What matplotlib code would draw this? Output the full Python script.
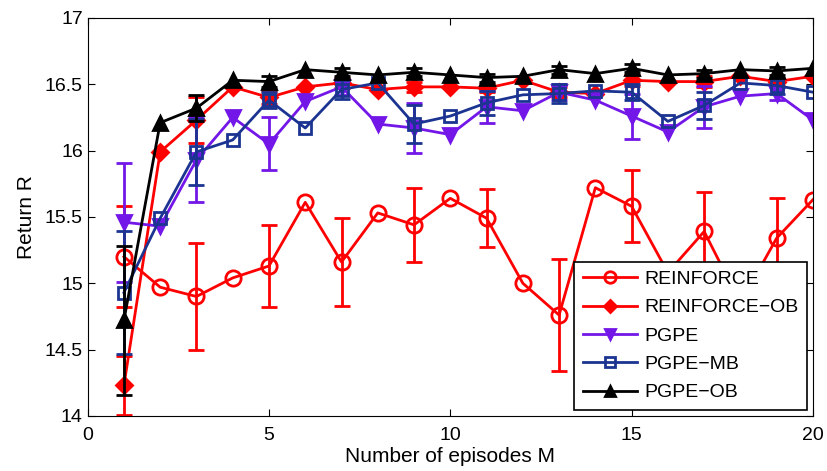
import matplotlib
matplotlib.use("Agg")
import matplotlib.pyplot as plt
from matplotlib.ticker import FuncFormatter

plt.rcParams["font.family"] = ["Liberation Sans", "DejaVu Sans"]

episodes = list(range(1, 21))
err_x = episodes[::2]  # error bars only at odd episode counts

reinforce = [15.20, 14.97, 14.90, 15.04, 15.13, 15.61, 15.16, 15.53, 15.44, 15.64,
             15.49, 15.00, 14.76, 15.72, 15.58, 15.08, 15.39, 14.85, 15.34, 15.63]
reinforce_err = [0.38, 0.40, 0.31, 0.33, 0.28, 0.22, 0.42, 0.27, 0.30, 0.30]

reinforce_ob = [14.23, 15.99, 16.23, 16.48, 16.40, 16.48, 16.51, 16.46, 16.48, 16.48,
                16.47, 16.53, 16.44, 16.43, 16.53, 16.52, 16.52, 16.56, 16.52, 16.56]
reinforce_ob_err = [0.22, 0.17, 0.05, 0.04, 0.04, 0.03, 0.04, 0.04, 0.04, 0.03]

pgpe = [15.46, 15.43, 15.93, 16.25, 16.05, 16.37, 16.48, 16.20, 16.17, 16.12,
        16.33, 16.30, 16.44, 16.38, 16.26, 16.14, 16.33, 16.41, 16.43, 16.23]
pgpe_err = [0.45, 0.32, 0.20, 0.06, 0.19, 0.12, 0.06, 0.17, 0.16, 0.05]

pgpe_mb = [14.93, 15.49, 15.99, 16.08, 16.38, 16.17, 16.46, 16.51, 16.20, 16.26,
           16.36, 16.42, 16.43, 16.45, 16.44, 16.22, 16.34, 16.51, 16.49, 16.44]
pgpe_mb_err = [0.46, 0.25, 0.06, 0.07, 0.14, 0.09, 0.07, 0.06, 0.10, 0.06]

pgpe_ob = [14.72, 16.21, 16.32, 16.53, 16.52, 16.61, 16.59, 16.57, 16.59, 16.57,
           16.55, 16.56, 16.61, 16.58, 16.62, 16.57, 16.58, 16.61, 16.60, 16.62]
pgpe_ob_err = [0.56, 0.10, 0.04, 0.03, 0.03, 0.03, 0.03, 0.03, 0.03, 0.03]

series = [
    ("REINFORCE", reinforce, reinforce_err, "#ff0000", "o", "none", 11),
    ("REINFORCE\u2212OB", reinforce_ob, reinforce_ob_err, "#ff0000", "D", "#ff0000", 8),
    ("PGPE", pgpe, pgpe_err, "#7316e8", "v", "#7316e8", 10),
    ("PGPE\u2212MB", pgpe_mb, pgpe_mb_err, "#1c3491", "s", "none", 9),
    ("PGPE\u2212OB", pgpe_ob, pgpe_ob_err, "#000000", "^", "#000000", 10),
]

fig = plt.figure(figsize=(8.27, 4.71), dpi=100)
ax = fig.add_axes([0.106, 0.117, 0.877, 0.845])

for name, vals, errs, col, mk, fc, ms in series:
    err_vals = vals[::2]
    ax.errorbar(err_x, err_vals, yerr=errs, fmt="none", ecolor=col,
                elinewidth=2, capsize=6, capthick=2)
    ax.plot(episodes, vals, color=col, lw=2, marker=mk, markersize=ms,
            markerfacecolor=fc, markeredgecolor=col, markeredgewidth=2,
            label=name)

ax.set_xlim(0, 20)
ax.set_ylim(14, 17)
ax.set_xticks([0, 5, 10, 15, 20])
ax.set_yticks([14, 14.5, 15, 15.5, 16, 16.5, 17])
ax.yaxis.set_major_formatter(FuncFormatter(lambda v, p: f"{v:g}"))
ax.tick_params(direction="in", top=True, right=True, labelsize=14, length=5)
ax.tick_params(axis="x", pad=8)
ax.set_xlabel("Number of episodes M", fontsize=15, labelpad=2)
ax.set_ylabel("Return R", fontsize=15, labelpad=6)

leg = ax.legend(loc="lower right", fontsize=14, fancybox=False, framealpha=1,
                edgecolor="black", handlelength=2.8, borderaxespad=0.3,
                labelspacing=0.55, handletextpad=0.35, borderpad=0.45,
                markerscale=0.75)
leg.get_frame().set_linewidth(1.2)

fig.savefig("out.png", dpi=100)
